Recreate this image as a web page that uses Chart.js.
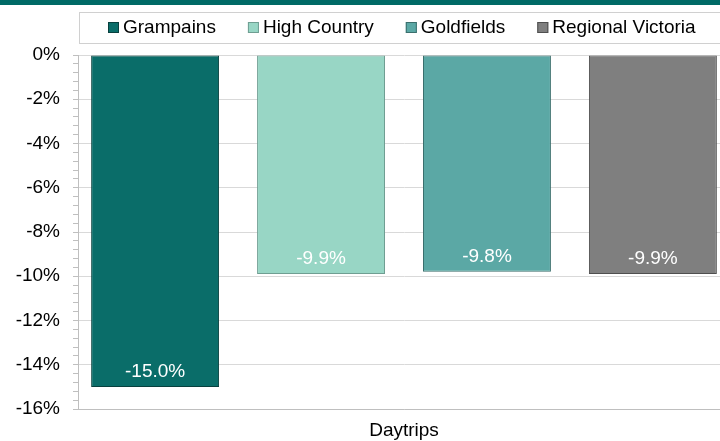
<!DOCTYPE html>
<html>
<head>
<meta charset="utf-8">
<script src="https://cdn.jsdelivr.net/npm/chart.js@4/dist/chart.umd.min.js"></script>
<style>
  html, body { margin: 0; padding: 0; background: #fff; overflow: hidden; }
  #band { position: absolute; left: 0; top: 0; width: 720px; height: 5px; background: #006a66; }
  #wrap { position: absolute; left: 0; top: 0; width: 740px; height: 441px; }
</style>
</head>
<body>
<div id="wrap"><canvas id="chart" width="740" height="441"></canvas></div>
<div id="band"></div>
<script>
// === Data ===
const categories = ["Daytrips"];
const seriesNames = ["Grampains", "High Country", "Goldfields", "Regional Victoria"];
const grampains = [-15.0];
const highCountry = [-9.9];
const goldfields = [-9.8];
const regionalVictoria = [-9.9];
const yMin = -16;
const yMax = 0;
const yMajorStep = 2;
const yMinorStep = 0.4;

const fills = ["#0a6d69", "#98d6c5", "#5ba8a5", "#7f7f7f"];
const edges = ["#08403e", "#6f9e92", "#3b6f6d", "#4f4f4f"];
const FONT = "'Liberation Sans', Arial, sans-serif";

const seriesValues = [grampains, highCountry, goldfields, regionalVictoria];

const isMajor = v => Math.abs(v / yMajorStep - Math.round(v / yMajorStep)) < 1e-6;

// === Legend (boxed, drawn at the top) ===
const boxLegend = {
  id: "boxLegend",
  afterDraw(chart) {
    const ctx = chart.ctx;
    ctx.save();
    ctx.strokeStyle = "#d0d0d0";
    ctx.lineWidth = 1;
    ctx.strokeRect(79.5, 12.5, 700, 31);
    ctx.font = "19px " + FONT;
    ctx.textBaseline = "middle";
    let x = 108;
    chart.data.datasets.forEach((ds, i) => {
      ctx.fillStyle = ds.backgroundColor;
      ctx.fillRect(x, 22, 11, 11);
      ctx.strokeStyle = ds.borderColor;
      ctx.strokeRect(x + 0.5, 22.5, 10, 10);
      ctx.fillStyle = "#000";
      ctx.fillText(ds.label, x + 15, 28);
      x += 15 + ctx.measureText(ds.label).width + 32;
    });
    ctx.restore();
  }
};

// === Value labels inside the bar ends ===
const barLabels = {
  id: "barLabels",
  afterDatasetsDraw(chart) {
    const ctx = chart.ctx;
    ctx.save();
    ctx.font = "19px " + FONT;
    ctx.fillStyle = "#fff";
    ctx.textAlign = "center";
    ctx.textBaseline = "middle";
    chart.data.datasets.forEach((ds, i) => {
      chart.getDatasetMeta(i).data.forEach((bar, j) => {
        ctx.fillText(ds.data[j].toFixed(1) + "%", bar.x, bar.y - 15);
      });
    });
    ctx.restore();
  }
};

new Chart(document.getElementById("chart"), {
  type: "bar",
  data: {
    labels: categories,
    datasets: seriesNames.map((name, i) => ({
      label: name,
      data: seriesValues[i],
      backgroundColor: fills[i],
      borderColor: edges[i],
      borderWidth: 1,
      borderSkipped: false,
      categoryPercentage: 1.018,
      barPercentage: 0.771
    }))
  },
  options: {
    responsive: false,
    devicePixelRatio: 1,
    animation: false,
    layout: { padding: { top: 55, right: 10, left: 0, bottom: 0 } },
    plugins: {
      legend: { display: false },
      tooltip: { enabled: false }
    },
    scales: {
      x: {
        grid: { display: false },
        border: { display: true, color: "#bfbfbf" },
        ticks: { color: "#000", font: { family: FONT, size: 19 }, padding: 2 },
        afterFit: s => { s.height = 32; }
      },
      y: {
        min: yMin,
        max: yMax,
        border: { display: true, color: "#bfbfbf" },
        grid: {
          color: c => (c.tick && isMajor(c.tick.value)) ? "#d9d9d9" : "rgba(0,0,0,0)",
          tickColor: "#bfbfbf",
          tickLength: 5
        },
        ticks: {
          stepSize: yMinorStep,
          autoSkip: false,
          color: "#000",
          padding: 13,
          font: { family: FONT, size: 19 },
          callback: v => isMajor(v) ? `${Math.round(v)}%` : ""
        },
        afterFit: s => { s.width = 78; }
      }
    }
  },
  plugins: [boxLegend, barLabels]
});
</script>
</body>
</html>
